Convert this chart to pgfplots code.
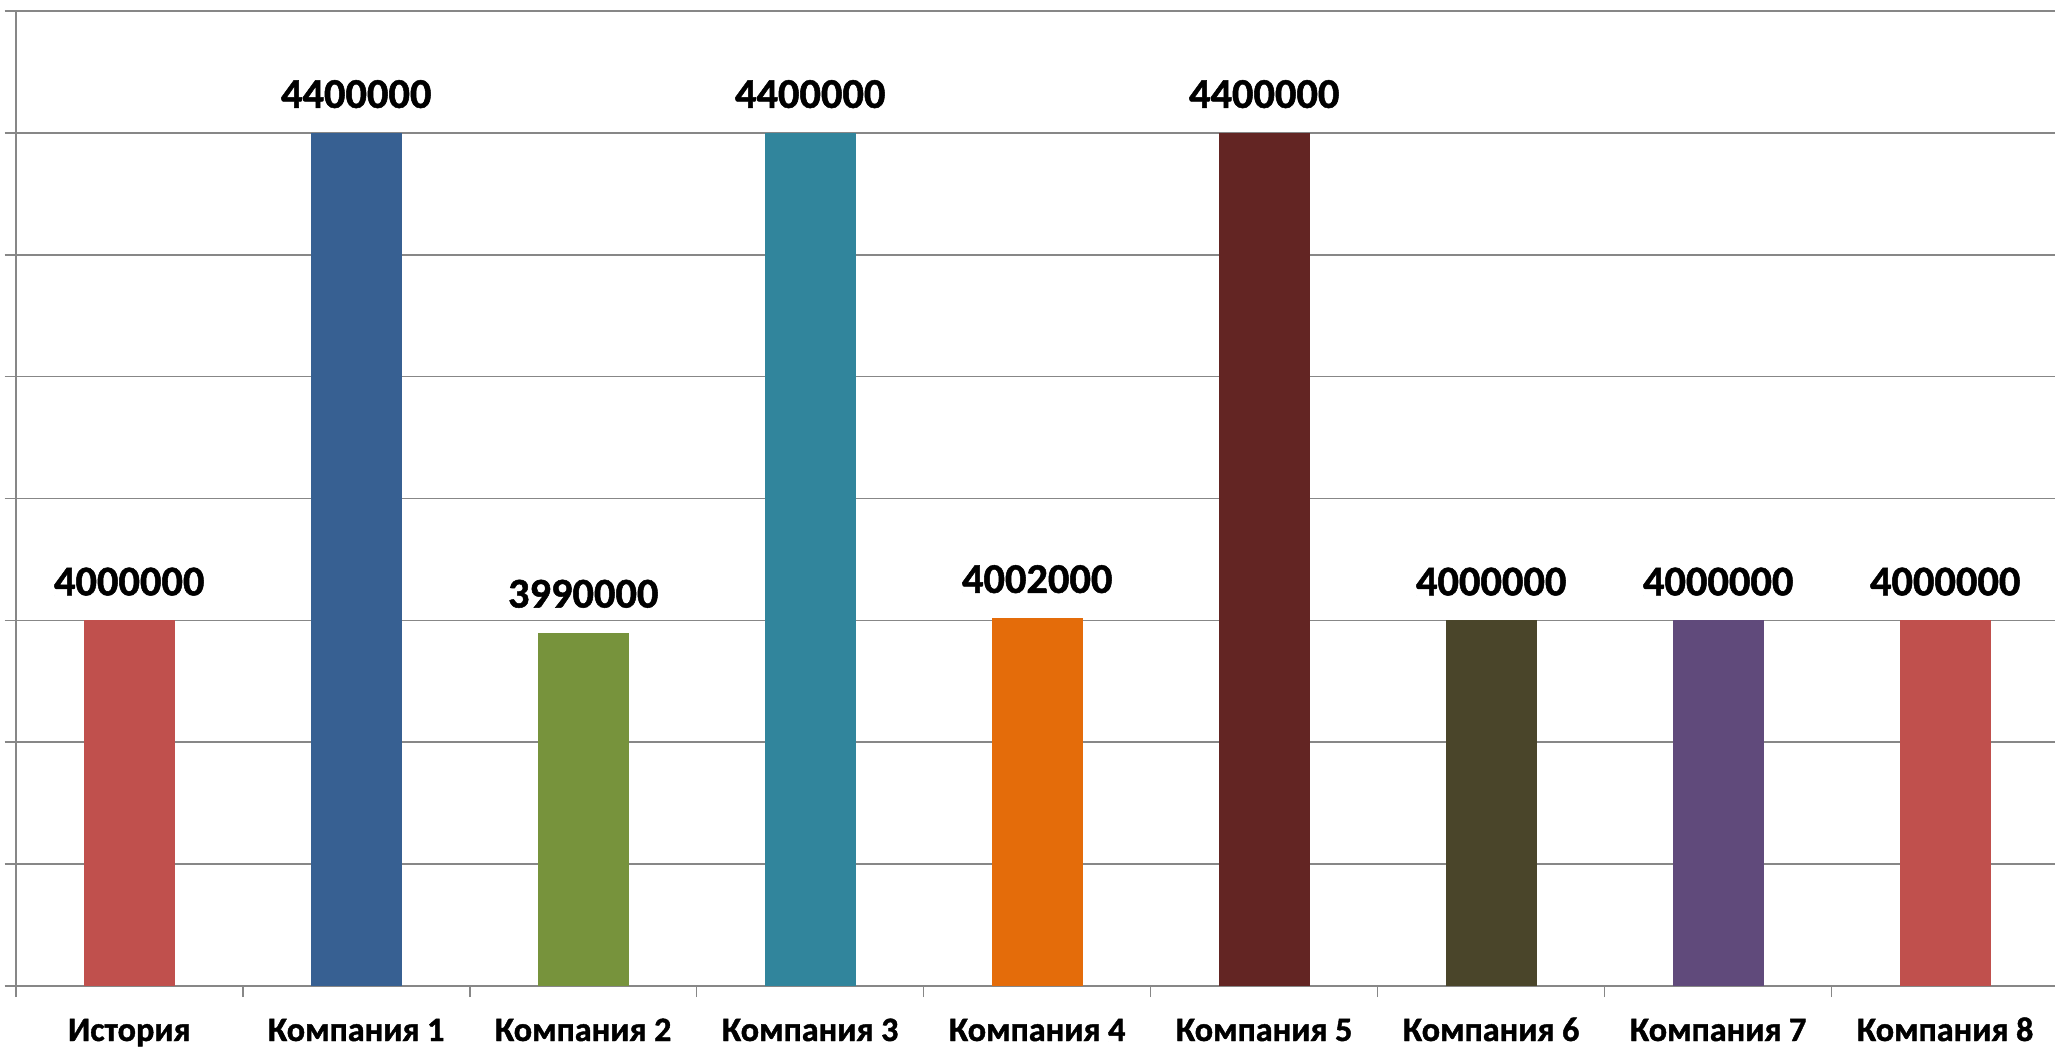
\documentclass[border=0pt]{standalone}
\usepackage{fontspec}
\setmainfont{Carlito}[BoldFeatures={FakeBold=1.2}]
\usepackage{pgfplots}
\pgfplotsset{compat=1.18}
\definecolor{gridgray}{HTML}{878787}
\definecolor{c0}{HTML}{C0504D}
\definecolor{c1}{HTML}{376092}
\definecolor{c2}{HTML}{77933C}
\definecolor{c3}{HTML}{31859C}
\definecolor{c4}{HTML}{E46C0A}
\definecolor{c5}{HTML}{632523}
\definecolor{c6}{HTML}{4A452A}
\definecolor{c7}{HTML}{604A7B}
\definecolor{c8}{HTML}{C0504D}
\begin{document}
\begin{tikzpicture}
\begin{axis}[
  scale only axis, width=510.75pt, height=243.75pt,
  at={(0,0)}, anchor=south west,
  xmin=-0.5, xmax=8.5, ymin=3700000, ymax=4500000,
  axis x line*=bottom, axis y line*=left,
  axis line style={draw=gridgray, line width=0.5pt},
  xtick={-0.5,0.5,1.5,2.5,3.5,4.5,5.5,6.5,7.5,8.5},
  x tick label as interval,
  xticklabels={История,Компания 1,Компания 2,Компания 3,Компания 4,Компания 5,Компания 6,Компания 7,Компания 8},
  ytick={3700000,3800000,3900000,4000000,4100000,4200000,4300000,4400000,4500000},
  yticklabels={},
  ymajorgrids, grid style={draw=gridgray, line width=0.4pt},
  tick align=outside, major tick length=2.75pt,
  tick style={draw=gridgray, line width=0.4pt},
  xticklabel style={font=\fontsize{8.55}{10}\selectfont\bfseries, anchor=base, inner sep=0pt, yshift=-11pt},
  ybar, bar width=0.4,
  point meta=explicit symbolic,
  nodes near coords,
  every node near coord/.append style={font=\fontsize{10.6}{12}\selectfont\bfseries, anchor=base, inner sep=0pt, yshift=6.25pt, text=black},
]
\addplot[bar shift=0pt, fill=c0, draw=none] coordinates {(0,4000000) [4000000]};
\addplot[bar shift=0pt, fill=c1, draw=none] coordinates {(1,4400000) [4400000]};
\addplot[bar shift=0pt, fill=c2, draw=none] coordinates {(2,3990000) [3990000]};
\addplot[bar shift=0pt, fill=c3, draw=none] coordinates {(3,4400000) [4400000]};
\addplot[bar shift=0pt, fill=c4, draw=none] coordinates {(4,4002000) [4002000]};
\addplot[bar shift=0pt, fill=c5, draw=none] coordinates {(5,4400000) [4400000]};
\addplot[bar shift=0pt, fill=c6, draw=none] coordinates {(6,4000000) [4000000]};
\addplot[bar shift=0pt, fill=c7, draw=none] coordinates {(7,4000000) [4000000]};
\addplot[bar shift=0pt, fill=c8, draw=none] coordinates {(8,4000000) [4000000]};
\end{axis}
\pgfresetboundingbox
\path (-3.925pt,-15.75pt) rectangle (509.825pt,246.5pt);
\end{tikzpicture}
\end{document}
